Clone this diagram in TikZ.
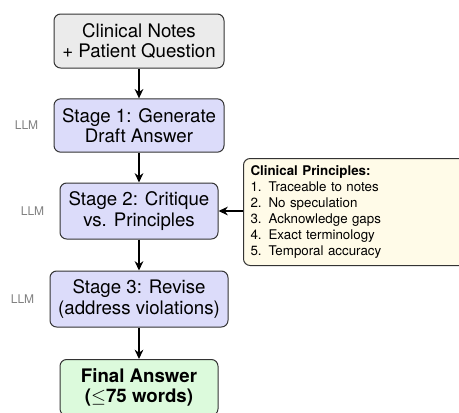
\documentclass[tikz,border=0pt]{standalone}
\usepackage{fontspec}
\setmainfont{TeX Gyre Heros}
\usetikzlibrary{arrows.meta,positioning}
\definecolor{boxgray}{HTML}{EBEBEB}
\definecolor{boxblue}{HTML}{DCDCFA}
\definecolor{boxgreen}{HTML}{DCFADC}
\definecolor{boxyellow}{HTML}{FFFBE8}
\definecolor{edgegray}{HTML}{333333}
\definecolor{llmgray}{HTML}{808080}
\begin{document}
\begin{tikzpicture}[x=0.75pt,y=-0.75pt,
  stagebox/.style={draw=edgegray,line width=0.75pt,rounded corners=5pt,align=center,
    font=\fontsize{14}{15.5}\selectfont,inner sep=2pt},
  llm/.style={text=llmgray,font=\fontsize{9}{10}\selectfont,inner sep=0pt,anchor=east},
  flow/.style={line width=1.1pt,-{Stealth[length=7pt,width=6.5pt]}}]
\useasboundingbox (0,0) rectangle (459,412);
\clip (0,0) rectangle (459,412);
\node[stagebox,fill=boxgray,minimum width=127.5pt,minimum height=40.5pt] (in) at (139,41) {Clinical Notes\\+ Patient Question};
\node[stagebox,fill=boxblue,minimum width=127.5pt,minimum height=40pt] (s1) at (139,125.5) {Stage 1: Generate\\Draft Answer};
\node[stagebox,fill=boxblue,minimum width=118.5pt,minimum height=42pt] (s2) at (139,211) {Stage 2: Critique\\vs. Principles};
\node[stagebox,fill=boxblue,minimum width=133.5pt,minimum height=42pt] (s3) at (139,299) {Stage 3: Revise\\(address violations)};
\node[stagebox,fill=boxgreen,minimum width=118.5pt,minimum height=42pt,anchor=north,font=\fontsize{14}{15.5}\selectfont\bfseries] (fin) at (139,359) {Final Answer\\($\leq$75 words)};
\node[llm] (l1) at ([xshift=-11.25pt]s1.west) {LLM};
\node[llm] (l2) at ([xshift=-11.25pt]s2.west) {LLM};
\node[llm] (l3) at ([xshift=-11.25pt]s3.west) {LLM};
\node[draw=edgegray,line width=0.75pt,rounded corners=5pt,fill=boxyellow,anchor=north west,
  text width=200pt,align=left,minimum height=80.25pt,inner xsep=5.25pt,inner ysep=0pt,
  font=\fontsize{10}{12}\selectfont] (pr) at (243,158)
  {\begin{tabular}{@{}l@{\hspace{5.2pt}}l@{}}
   \multicolumn{2}{@{}l}{\bfseries Clinical Principles:}\\
   1. & Traceable to notes\\
   2. & No speculation\\
   3. & Acknowledge gaps\\
   4. & Exact terminology\\
   5. & Temporal accuracy
   \end{tabular}};
\draw[flow] (in) -- (s1);
\draw[flow] (s1) -- (s2);
\draw[flow] (s2) -- (s3);
\draw[flow] (s3) -- (fin);
\draw[flow] (pr.west |- s2.east) -- (s2.east);
\end{tikzpicture}
\end{document}
